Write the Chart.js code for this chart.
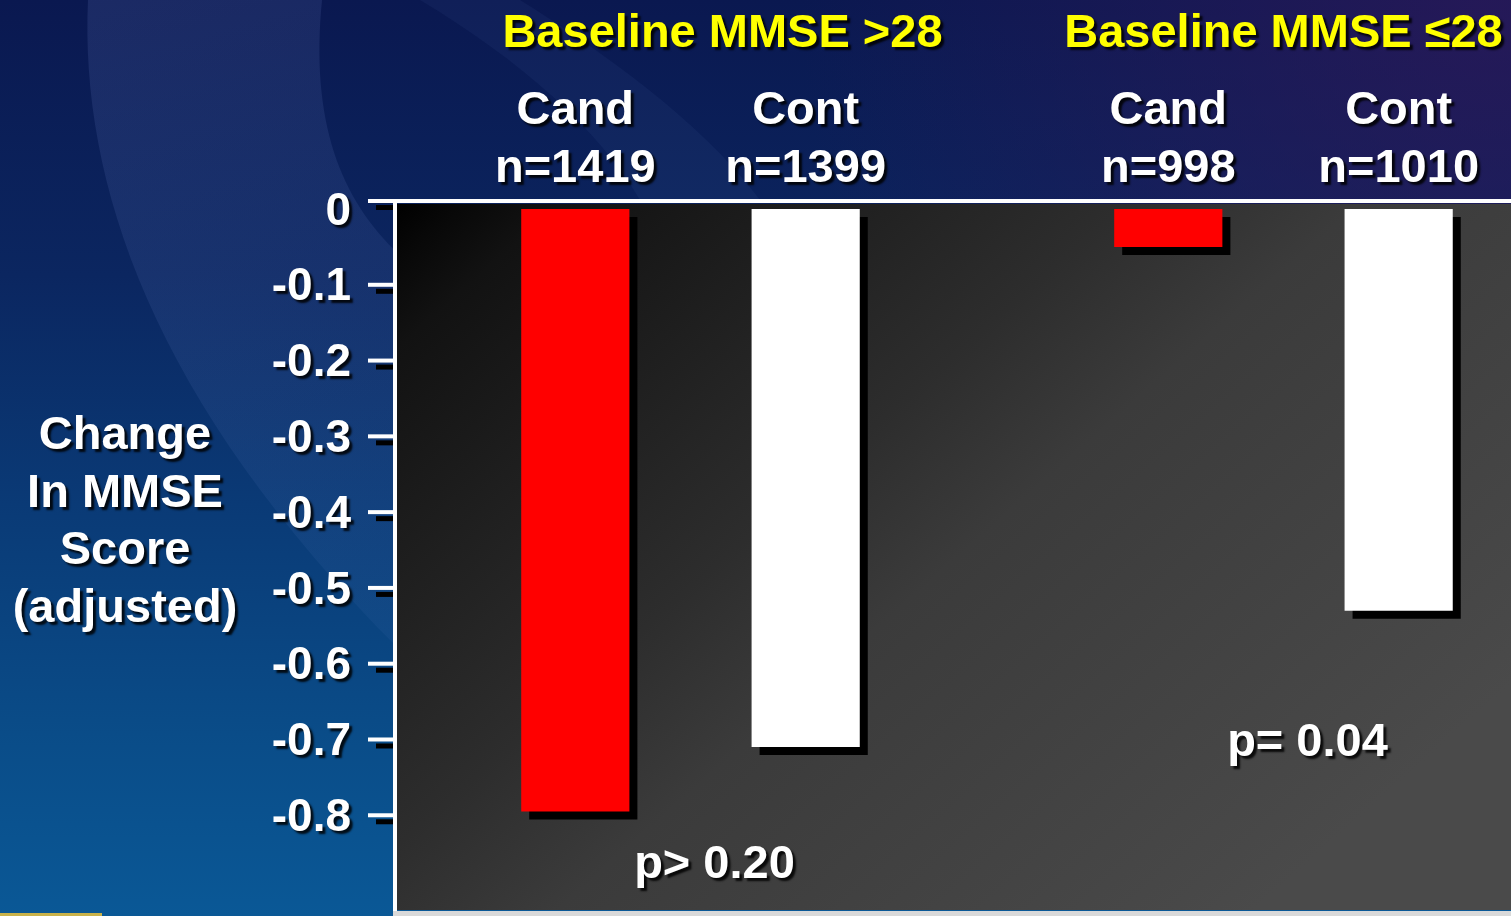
<!DOCTYPE html>
<html>
<head>
<meta charset="utf-8">
<title>Change in MMSE Score by Baseline MMSE</title>
<script src="https://cdn.jsdelivr.net/npm/chart.js@4.4.1/dist/chart.umd.min.js"></script>
<style>
  html, body { margin: 0; padding: 0; width: 1511px; height: 916px; overflow: hidden; background: #0a2a66; }
  #wrap { position: relative; width: 1511px; height: 916px; }
  canvas { display: block; }
</style>
</head>
<body>
<div id="wrap"><canvas id="chart"></canvas></div>
<script>
// ---- data ----
const groups = ['Baseline MMSE >28', 'Baseline MMSE \u226428'];
const seriesNames = ['Cand', 'Cont'];
const candValues = [-0.795, -0.05];
const contValues = [-0.71, -0.53];
const candN = [1419, 998];
const contN = [1399, 1010];
const yTicks = [0, -0.1, -0.2, -0.3, -0.4, -0.5, -0.6, -0.7, -0.8];
const pLabels = ['p> 0.20', 'p= 0.04'];
const pLevels = [-0.86, -0.70];
const yTitle = ['Change', 'In MMSE', 'Score', '(adjusted)'];

const FONT = '"Liberation Sans", Arial, Helvetica, sans-serif';
const HEADER_SHIFT = [32, 0];   // headline nudge per group, px

function textShadow(ctx) {
  ctx.shadowColor = 'rgba(0,0,0,0.85)';
  ctx.shadowOffsetX = 3;
  ctx.shadowOffsetY = 3;
  ctx.shadowBlur = 2;
}
function clearShadow(ctx) {
  ctx.shadowColor = 'rgba(0,0,0,0)';
  ctx.shadowOffsetX = 0;
  ctx.shadowOffsetY = 0;
  ctx.shadowBlur = 0;
}

// slide backdrop, plot panel, frame and y tick marks
const slideBackdrop = {
  id: 'slideBackdrop',
  beforeDraw(chart) {
    const { ctx, width, height, chartArea: a } = chart;
    ctx.save();

    let g = ctx.createLinearGradient(0, 0, 0, height);
    g.addColorStop(0, '#0a1850');
    g.addColorStop(0.3, '#0b2660');
    g.addColorStop(0.55, '#0a3a76');
    g.addColorStop(0.8, '#0a4c88');
    g.addColorStop(1, '#0a5896');
    ctx.fillStyle = g;
    ctx.fillRect(0, 0, width, height);

    // purple tint toward the upper right
    g = ctx.createRadialGradient(1500, 0, 20, 1500, 0, 700);
    g.addColorStop(0, 'rgba(45,25,90,0.75)');
    g.addColorStop(1, 'rgba(45,25,90,0)');
    ctx.fillStyle = g;
    ctx.fillRect(0, 0, width, height);

    // light swoosh on the left
    ctx.beginPath();
    ctx.moveTo(88, 0);
    ctx.bezierCurveTo(80, 180, 150, 400, 400, 650);
    ctx.lineTo(400, 255);
    ctx.bezierCurveTo(340, 200, 310, 120, 322, 0);
    ctx.closePath();
    g = ctx.createLinearGradient(0, 0, 300, 700);
    g.addColorStop(0, 'rgba(120,140,210,0.16)');
    g.addColorStop(1, 'rgba(120,150,220,0.06)');
    ctx.fillStyle = g;
    ctx.fill();

    // faint streak across the header
    ctx.beginPath();
    ctx.moveTo(420, 0);
    ctx.bezierCurveTo(520, 60, 600, 130, 640, 200);
    ctx.lineTo(760, 200);
    ctx.bezierCurveTo(700, 120, 600, 50, 520, 0);
    ctx.closePath();
    ctx.fillStyle = 'rgba(120,150,220,0.06)';
    ctx.fill();

    // plot panel
    g = ctx.createLinearGradient(a.left, a.top, a.left + 726, a.top + 825);
    g.addColorStop(0, '#000000');
    g.addColorStop(0.04, '#080808');
    g.addColorStop(0.1, '#121212');
    g.addColorStop(0.44, '#2d2d2d');
    g.addColorStop(0.58, '#3b3b3b');
    g.addColorStop(0.95, '#484848');
    g.addColorStop(1, '#4a4a4a');
    ctx.fillStyle = g;
    ctx.fillRect(a.left, a.top, a.right - a.left, a.bottom - a.top);

    // tick mark shadows
    const y = chart.scales.y;
    ctx.fillStyle = '#000';
    yTicks.forEach(v => {
      const py = v === 0 ? a.top - 3 : y.getPixelForValue(v);
      ctx.fillRect(a.left - 18, py + 4, 17, 5);
    });

    // frame
    ctx.fillStyle = '#ffffff';
    ctx.fillRect(a.left - 26, a.top - 5, a.right - a.left + 26, 4);
    ctx.fillRect(a.left - 1, a.top - 5, 4, a.bottom - a.top + 20);
    ctx.fillStyle = '#d9d9d9';
    ctx.fillRect(a.left - 1, a.bottom + 1, a.right - a.left + 1, 6);

    // tick marks
    ctx.fillStyle = '#ffffff';
    yTicks.forEach(v => {
      if (v === 0) return;
      const py = y.getPixelForValue(v);
      ctx.fillRect(a.left - 26, py - 2, 26, 4);
    });

    // accent line at the lower left
    ctx.fillStyle = '#c9b24a';
    ctx.fillRect(0, height - 3, 102, 3);

    ctx.restore();
    textShadow(ctx);
  },
  beforeDatasetsDraw(chart) {
    const ctx = chart.ctx;
    ctx.shadowColor = '#000';
    ctx.shadowOffsetX = 8;
    ctx.shadowOffsetY = 8;
    ctx.shadowBlur = 0;
  },
  afterDatasetsDraw(chart) {
    const { ctx, scales } = chart;
    clearShadow(ctx);
    ctx.save();
    textShadow(ctx);
    ctx.textAlign = 'center';
    ctx.textBaseline = 'alphabetic';
    ctx.font = `bold 47px ${FONT}`;

    // group headlines
    ctx.fillStyle = '#ffff00';
    groups.forEach((t, i) => {
      ctx.fillText(t, scales.x.getPixelForValue(i) + HEADER_SHIFT[i], 47);
    });

    // series name and sample size above each bar
    ctx.fillStyle = '#ffffff';
    const counts = [candN, contN];
    chart.data.datasets.forEach((ds, di) => {
      chart.getDatasetMeta(di).data.forEach((bar, i) => {
        ctx.fillText(ds.label, bar.x, 124);
        ctx.fillText('n=' + counts[di][i], bar.x, 182);
      });
    });

    // p-values per group
    pLabels.forEach((t, i) => {
      const x = scales.x.getPixelForValue(i) + 24;
      const py = scales.y.getPixelForValue(pLevels[i]);
      ctx.fillText(t, x, py + 17);
    });

    // y axis title
    yTitle.forEach((t, i) => {
      ctx.fillText(t, 125, 449 + i * 57.5);
    });
    ctx.restore();
  }
};

const toPoints = vals => vals.map((v, i) => ({ x: i, y: v }));

new Chart(document.getElementById('chart'), {
  type: 'bar',
  data: {
    datasets: [
      { label: seriesNames[0], data: toPoints(candValues), backgroundColor: '#ff0000',
        categoryPercentage: 0.777, barPercentage: 0.4696, borderWidth: 0 },
      { label: seriesNames[1], data: toPoints(contValues), backgroundColor: '#ffffff',
        categoryPercentage: 0.777, barPercentage: 0.4696, borderWidth: 0 }
    ]
  },
  options: {
    responsive: true,
    maintainAspectRatio: false,
    animation: false,
    devicePixelRatio: 1,
    layout: { padding: { top: 0, left: 0, right: 0, bottom: 6 } },
    plugins: { legend: { display: false }, tooltip: { enabled: false } },
    scales: {
      x: {
        type: 'linear',
        position: 'top',
        offset: false,
        min: -0.5,
        max: 1.3837,
        grid: { display: false, drawTicks: false },
        border: { display: false },
        afterBuildTicks(scale) { scale.ticks = groups.map((_, i) => ({ value: i })); },
        ticks: { display: false },
        afterFit(scale) {
          scale.height = 204;
          scale.paddingLeft = 0;
          scale.paddingRight = 0;
        }
      },
      y: {
        min: -0.925,
        max: 0.0066,
        grid: { display: false, drawTicks: false },
        border: { display: false },
        afterBuildTicks(scale) { scale.ticks = yTicks.map(v => ({ value: v })); },
        ticks: {
          color: '#ffffff',
          padding: 43,
          labelOffset: 3,
          font: { family: FONT, size: 46, weight: 'bold' },
          callback: v => (v === 0 ? '0' : String(Math.round(v * 10) / 10))
        },
        afterFit(scale) {
          scale.width = 394;
          scale.paddingTop = 0;
          scale.paddingBottom = 0;
        }
      }
    }
  },
  plugins: [slideBackdrop]
});
</script>
</body>
</html>
